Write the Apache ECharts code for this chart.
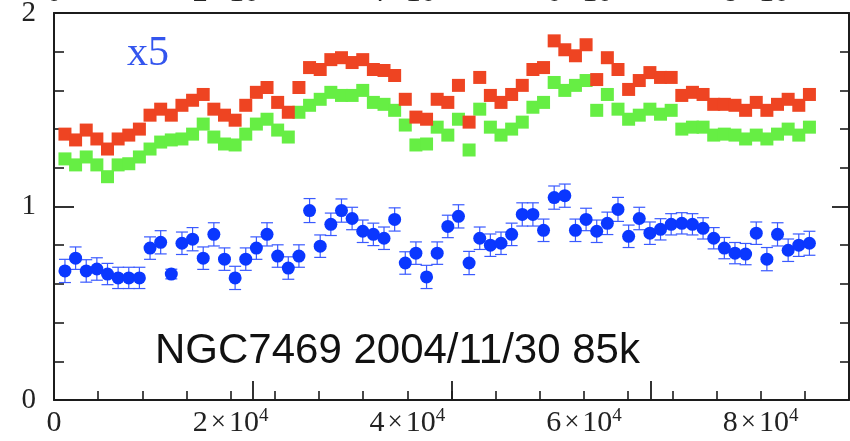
<!DOCTYPE html>
<html>
<head>
<meta charset="utf-8">
<script src="https://cdn.jsdelivr.net/npm/echarts@6.0.0/dist/echarts.min.js"></script>
<style>
  html, body { margin: 0; padding: 0; background: #ffffff; }
  #chart { width: 850px; height: 441px; }
</style>
</head>
<body>
<div id="chart"></div>
<script>
// Bin centre times (s) of the light curve
const timeSec = [
  1240, 2444, 3648, 4852, 6056, 7260, 8464, 9668, 10872, 12076,
  13280, 14484, 15688, 16892, 18096, 19300, 20504, 21708, 22912, 24116,
  25320, 26524, 27728, 28932, 30136, 31340, 32544, 33748, 34952, 36156,
  37360, 38564, 39768, 40972, 42176, 43380, 44584, 45788, 46992, 48196,
  49400, 50604, 51808, 53012, 54216, 55420, 56624, 57828, 59032, 60236,
  61440, 62644, 63848, 65052, 66256, 67460, 68664, 69868, 71072, 72276,
  73480, 74684, 75888, 77092, 78296, 79500, 80704, 81908, 83112, 84316,
  85520
];

// Red band rate
const redRate = [
  1.374, 1.344, 1.395, 1.349, 1.297, 1.349, 1.369, 1.400, 1.472, 1.503,
  1.472, 1.523, 1.549, 1.579, 1.503, 1.472, 1.446, 1.523, 1.590, 1.615,
  1.538, 1.487, 1.615, 1.718, 1.708, 1.759, 1.769, 1.744, 1.759, 1.708,
  1.703, 1.677, 1.554, 1.462, 1.451, 1.554, 1.538, 1.626, 1.436, 1.667,
  1.574, 1.538, 1.579, 1.626, 1.708, 1.718, 1.856, 1.810, 1.779, 1.836,
  1.656, 1.769, 1.708, 1.605, 1.651, 1.692, 1.667, 1.667, 1.574, 1.590,
  1.579, 1.528, 1.528, 1.523, 1.497, 1.538, 1.497, 1.528, 1.554, 1.523,
  1.579
];

// Green band rate
const greenRate = [
  1.246, 1.215, 1.256, 1.215, 1.154, 1.215, 1.221, 1.256, 1.297, 1.333,
  1.344, 1.349, 1.374, 1.426, 1.359, 1.323, 1.318, 1.374, 1.426, 1.451,
  1.395, 1.359, 1.487, 1.523, 1.554, 1.590, 1.574, 1.574, 1.600, 1.538,
  1.528, 1.497, 1.421, 1.318, 1.323, 1.410, 1.369, 1.451, 1.292, 1.503,
  1.410, 1.369, 1.400, 1.436, 1.513, 1.538, 1.641, 1.600, 1.626, 1.651,
  1.497, 1.579, 1.503, 1.451, 1.472, 1.503, 1.477, 1.497, 1.400, 1.410,
  1.410, 1.369, 1.374, 1.369, 1.349, 1.369, 1.349, 1.374, 1.400, 1.369,
  1.410
];

// Blue hardness values (scaled x5) and their 1-sigma errors
const blueValue = [
  0.667, 0.733, 0.667, 0.677, 0.651, 0.631, 0.631, 0.631, 0.785, 0.815,
  0.651, 0.810, 0.831, 0.733, 0.856, 0.728, 0.631, 0.728, 0.785, 0.856,
  0.744, 0.682, 0.744, 0.979, 0.795, 0.908, 0.979, 0.938, 0.872, 0.856,
  0.836, 0.933, 0.708, 0.759, 0.636, 0.759, 0.897, 0.949, 0.708, 0.836,
  0.800, 0.810, 0.856, 0.959, 0.959, 0.877, 1.046, 1.056, 0.877, 0.933,
  0.872, 0.913, 0.985, 0.846, 0.938, 0.862, 0.882, 0.908, 0.913, 0.908,
  0.887, 0.836, 0.785, 0.759, 0.754, 0.862, 0.728, 0.856, 0.774, 0.800,
  0.810
];
const blueError = [
  0.060, 0.058, 0.058, 0.058, 0.055, 0.055, 0.055, 0.055, 0.058, 0.060,
  0.025, 0.058, 0.060, 0.058, 0.060, 0.058, 0.060, 0.058, 0.058, 0.060,
  0.058, 0.058, 0.058, 0.062, 0.058, 0.058, 0.060, 0.058, 0.058, 0.058,
  0.058, 0.060, 0.058, 0.058, 0.060, 0.058, 0.058, 0.060, 0.060, 0.058,
  0.058, 0.058, 0.058, 0.060, 0.060, 0.058, 0.060, 0.060, 0.058, 0.058,
  0.058, 0.058, 0.062, 0.058, 0.058, 0.058, 0.055, 0.055, 0.055, 0.055,
  0.055, 0.055, 0.055, 0.055, 0.055, 0.058, 0.060, 0.060, 0.058, 0.058,
  0.062
];

const xMajorTicks = [0, 20000, 40000, 60000, 80000];
const yTickLabels = ['0', '1', '2'];
const panelNote = 'NGC7469 2004/11/30 85k';
const scaleNote = 'x5';

const ink = '#1c1c1c';
const serif = '"Liberation Serif", "DejaVu Serif", serif';

function sciLabel(v) {
  if (xMajorTicks.indexOf(v) < 0) return '';
  if (v === 0) return '{n|0}';
  return '{n|' + (v / 10000) + '}{x|×}{n|10}{e|4}';
}

const sciRich = {
  n: { fontFamily: serif, fontSize: 30, color: '#222', lineHeight: 32 },
  x: { fontFamily: serif, fontSize: 27, color: '#222', lineHeight: 32, padding: [0, 3, 0, 3] },
  e: { fontFamily: serif, fontSize: 19, color: '#222', lineHeight: 20, verticalAlign: 'top' }
};

const pts = (ys) => timeSec.map((t, i) => [t, ys[i]]);
const errData = timeSec.map((t, i) => [t, blueValue[i], blueError[i]]);

const chart = echarts.init(document.getElementById('chart'), null, { renderer: 'canvas' });

const frameLine = { show: true, onZero: false, lineStyle: { color: ink, width: 2 } };

chart.setOption({
  animation: false,
  backgroundColor: '#ffffff',
  grid: { left: 54, right: 1, top: 13, bottom: 41, containLabel: false, outerBoundsMode: 'none' },
  xAxis: [
    {
      // bottom axis: minor-length ticks every 5000 s, labels at 2×10^4 steps
      type: 'value', position: 'bottom', min: 0, max: 90000, interval: 5000,
      axisLine: frameLine,
      axisTick: { show: true, inside: true, length: 9, lineStyle: { color: ink, width: 1.6 } },
      splitLine: { show: false },
      axisLabel: { show: true, margin: 7, formatter: sciLabel, rich: sciRich, hideOverlap: false }
    },
    {
      // long ticks at the labelled positions
      type: 'value', position: 'bottom', min: 0, max: 80000, interval: 20000,
      axisLine: { show: false },
      axisTick: { show: true, inside: true, length: 19, lineStyle: { color: ink, width: 1.8 } },
      splitLine: { show: false },
      axisLabel: { show: false }
    },
    {
      // upper frame edge with the labels of the panel above peeking in
      type: 'value', position: 'top', min: 0, max: 90000, interval: 20000,
      axisLine: frameLine,
      axisTick: { show: false },
      splitLine: { show: false },
      axisLabel: { show: true, margin: 4, formatter: sciLabel, rich: sciRich, hideOverlap: false }
    }
  ],
  yAxis: [
    {
      type: 'value', position: 'left', min: 0, max: 2, interval: 1,
      axisLine: frameLine,
      axisTick: { show: true, inside: true, length: 20, lineStyle: { color: ink, width: 1.8 } },
      minorTick: { show: true, splitNumber: 5, length: 10, lineStyle: { color: ink, width: 1.6 } },
      splitLine: { show: false },
      axisLabel: {
        show: true, margin: 18, fontFamily: serif, fontSize: 29, color: '#222',
        formatter: (v) => yTickLabels[Math.round(v)], showMinLabel: true, showMaxLabel: true
      }
    },
    {
      type: 'value', position: 'right', min: 0, max: 2, interval: 1,
      axisLine: frameLine,
      axisTick: { show: true, inside: true, length: 17, lineStyle: { color: ink, width: 1.8 } },
      minorTick: { show: true, splitNumber: 5, length: 9, lineStyle: { color: ink, width: 1.6 } },
      splitLine: { show: false },
      axisLabel: { show: false }
    }
  ],
  series: [
    {
      name: 'green', type: 'scatter', xAxisIndex: 0, yAxisIndex: 0,
      symbol: 'rect', symbolSize: 13,
      itemStyle: { color: '#66ee44', opacity: 1 },
      data: pts(greenRate), z: 3
    },
    {
      name: 'red', type: 'scatter', xAxisIndex: 0, yAxisIndex: 0,
      symbol: 'rect', symbolSize: 13,
      itemStyle: { color: '#ee4422', opacity: 1 },
      data: pts(redRate), z: 4
    },
    {
      name: 'blue-err', type: 'custom', xAxisIndex: 0, yAxisIndex: 0,
      data: errData, z: 5,
      renderItem: function (params, api) {
        const x = api.value(0), y = api.value(1), e = api.value(2);
        const hi = api.coord([x, y + e]);
        const lo = api.coord([x, y - e]);
        const cap = 6;
        const style = { stroke: '#3a5aff', lineWidth: 1.2 };
        return {
          type: 'group',
          children: [
            { type: 'line', shape: { x1: hi[0], y1: hi[1], x2: lo[0], y2: lo[1] }, style: style },
            { type: 'line', shape: { x1: hi[0] - cap, y1: hi[1], x2: hi[0] + cap, y2: hi[1] }, style: style },
            { type: 'line', shape: { x1: lo[0] - cap, y1: lo[1], x2: lo[0] + cap, y2: lo[1] }, style: style }
          ]
        };
      }
    },
    {
      name: 'blue', type: 'scatter', xAxisIndex: 0, yAxisIndex: 0,
      symbol: 'circle', symbolSize: 13,
      itemStyle: { color: '#0a37ff', opacity: 1 },
      data: pts(blueValue), z: 6
    }
  ],
  graphic: [
    {
      type: 'text', x: 127, y: 33, z: 10,
      style: { text: scaleNote, font: '42px "Liberation Serif", serif', fill: '#3355ee' }
    },
    {
      type: 'text', x: 155, y: 330, z: 10,
      style: { text: panelNote, font: '42px "Liberation Sans", Arial, sans-serif', fill: '#111111' }
    }
  ]
});
</script>
</body>
</html>
